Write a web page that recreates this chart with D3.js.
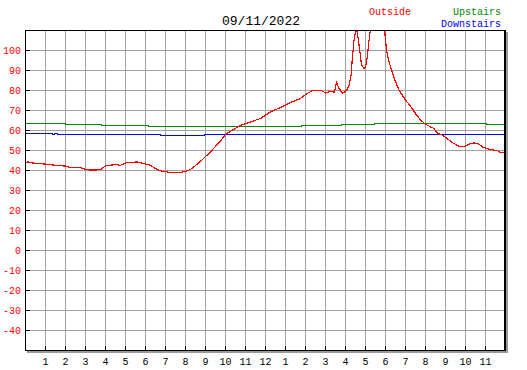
<!DOCTYPE html>
<html>
<head>
<meta charset="utf-8">
<script src="https://cdn.jsdelivr.net/npm/d3@7"></script>
<style>
  body { margin: 0; background: #fff; }
  text { font-family: "Liberation Mono", "DejaVu Sans Mono", monospace; }
</style>
</head>
<body>
<div id="chart"></div>
<script>
var width = 527, height = 370;

var title = "09/11/2022";

// hours since midnight and temperatures
var outsideHours = [0, 0.15, 0.3, 1.0, 1.4, 2.0, 2.25, 2.75, 3.0, 3.25, 3.6, 3.8, 4.0, 4.5, 4.75, 5.0, 5.6, 6.0,
  6.25, 6.5, 6.75, 7.25, 7.75, 8.08, 8.33, 8.75, 9.25, 9.75, 10.0, 10.25, 10.75, 11.25, 11.75, 12.25, 12.75,
  13.25, 13.75, 14.08, 14.4, 14.75, 15.0, 15.25, 15.45, 15.55, 15.67, 15.83, 16.0, 16.17, 16.28, 16.33, 16.42,
  16.5, 16.55, 16.61, 16.72, 16.8, 16.92, 17.0, 17.08, 17.17, 17.25, 17.4, 17.7, 17.95, 18.0, 18.08, 18.17,
  18.33, 18.5, 18.67, 18.83, 19.0, 19.25, 19.5, 19.75, 20.0, 20.25, 20.42, 20.58, 20.83, 21.08, 21.33, 21.67,
  21.92, 22.17, 22.42, 22.67, 22.9, 23.15, 23.4, 23.6, 23.7, 23.95];
var outside = [44.0, 44.3, 43.8, 43.2, 42.7, 42.2, 41.5, 41.5, 40.5, 40.2, 40.3, 40.8, 42.3, 43.0, 42.6, 43.8, 44.3, 43.2,
  42.6, 41.0, 39.8, 39.0, 39.0, 39.8, 41.0, 44.6, 49.3, 54.8, 58.1, 59.6, 62.6, 64.3, 66.0, 69.3, 71.5,
  74.0, 76.0, 78.5, 80.2, 80.2, 78.8, 79.5, 79.2, 84.2, 81.2, 78.7, 79.5, 82.0, 87.8, 94.5, 104.5,
  109.5, 111, 107.8, 99.5, 92.8, 91.2, 91.5, 96.2, 104.5, 111, 116, 118, 112, 104.5, 98.7, 94.5,
  89.5, 84.5, 80.3, 77.8, 75.2, 72.2, 68.5, 65.2, 63.2, 61.8, 61.0, 58.8, 57.7, 56.0, 54.0, 52.2,
  51.8, 53.2, 53.8, 53.2, 51.5, 50.8, 50.2, 50.0, 49.2, 49.2];

var upstairsHours = [0, 2.0, 3.8, 6.15, 13.8, 15.8, 17.45, 23.05, 24];
var upstairs = [63.5, 63.0, 62.5, 62.1, 62.6, 63.0, 63.5, 63.0, 63.0];

var downstairsHours = [0, 1.33, 1.45, 1.6, 6.75, 6.8, 8.95, 24];
var downstairs = [58.5, 58.0, 58.5, 58.0, 57.4, 57.6, 58.0, 58.0];

var yTicks = [-40, -30, -20, -10, 0, 10, 20, 30, 40, 50, 60, 70, 80, 90, 100];
var hourTicks = d3.range(1, 24);
var hourLabels = hourTicks.map(function(h) { return String(h % 12 || 12); });

var seriesNames = ["Outside", "Upstairs", "Downstairs"];
var seriesColors = ["#ff0000", "#008800", "#0000ff"];

var x = d3.scaleLinear().domain([0, 24]).range([25.5, 505.5]);
var y = d3.scaleLinear().domain([-50, 110]).range([350.5, 30.5]);

var svg = d3.select('#chart').append('svg')
    .attr('width', width)
    .attr('height', height);

svg.append('rect').attr('width', width).attr('height', height).attr('fill', '#fff');

// shadow
svg.append('rect')
    .attr('x', 27).attr('y', 32)
    .attr('width', 481).attr('height', 321)
    .attr('fill', '#999');
svg.append('rect')
    .attr('x', 25).attr('y', 30)
    .attr('width', 481).attr('height', 321)
    .attr('fill', '#fff');

// grid
svg.append('g').selectAll('line').data(hourTicks).enter().append('line')
    .attr('x1', function(d) { return x(d); })
    .attr('x2', function(d) { return x(d); })
    .attr('y1', y(110)).attr('y2', y(-50))
    .attr('stroke', '#a0a0a0')
    .attr('shape-rendering', 'crispEdges');
svg.append('g').selectAll('line').data(yTicks).enter().append('line')
    .attr('x1', x(0)).attr('x2', x(24))
    .attr('y1', function(d) { return y(d); })
    .attr('y2', function(d) { return y(d); })
    .attr('stroke', '#a0a0a0')
    .attr('shape-rendering', 'crispEdges');

svg.append('defs').append('clipPath').attr('id', 'plot')
    .append('rect').attr('x', 25).attr('y', 30).attr('width', 480).attr('height', 320);

// lines
var stepLine = d3.line()
    .x(function(d) { return x(d[0]); })
    .y(function(d) { return y(d[1]); })
    .curve(d3.curveStepAfter);
var plainLine = d3.line()
    .x(function(d) { return x(d[0]); })
    .y(function(d) { return y(d[1]); });

var g = svg.append('g').attr('clip-path', 'url(#plot)');
g.append('path')
    .attr('d', stepLine(d3.zip(upstairsHours, upstairs)))
    .attr('fill', 'none').attr('stroke', seriesColors[1])
    .attr('shape-rendering', 'crispEdges');
g.append('path')
    .attr('d', stepLine(d3.zip(downstairsHours, downstairs)))
    .attr('fill', 'none').attr('stroke', seriesColors[2])
    .attr('shape-rendering', 'crispEdges');
g.append('path')
    .attr('d', plainLine(d3.zip(outsideHours, outside)))
    .attr('fill', 'none').attr('stroke', seriesColors[0])
    .attr('stroke-width', 1.2)
    .attr('shape-rendering', 'crispEdges');

// frame
svg.append('rect')
    .attr('x', 25.5).attr('y', 30.5)
    .attr('width', 479).attr('height', 320)
    .attr('fill', 'none').attr('stroke', '#000')
    .attr('shape-rendering', 'crispEdges');
svg.append('line')
    .attr('x1', 505.5).attr('x2', 505.5).attr('y1', 30).attr('y2', 351)
    .attr('stroke', '#000').attr('shape-rendering', 'crispEdges');

// tick marks
svg.append('g').selectAll('line').data(yTicks).enter().append('line')
    .attr('x1', 25).attr('x2', 30)
    .attr('y1', function(d) { return y(d); })
    .attr('y2', function(d) { return y(d); })
    .attr('stroke', '#000').attr('shape-rendering', 'crispEdges');
svg.append('g').selectAll('line').data(hourTicks).enter().append('line')
    .attr('x1', function(d) { return x(d); })
    .attr('x2', function(d) { return x(d); })
    .attr('y1', 346).attr('y2', 350)
    .attr('stroke', '#000').attr('shape-rendering', 'crispEdges');

// labels
svg.append('g').selectAll('text').data(yTicks).enter().append('text')
    .attr('x', 21)
    .attr('y', function(d) { return y(d) + 3.5; })
    .attr('text-anchor', 'end')
    .attr('font-size', 10)
    .attr('fill', '#ff0000')
    .text(function(d) { return d; });
svg.append('g').selectAll('text').data(hourTicks).enter().append('text')
    .attr('x', function(d) { return x(d); })
    .attr('y', 365)
    .attr('text-anchor', 'middle')
    .attr('font-size', 10)
    .attr('fill', '#000')
    .text(function(d, i) { return hourLabels[i]; });

svg.append('text')
    .attr('x', 261).attr('y', 25)
    .attr('text-anchor', 'middle')
    .attr('font-size', 13)
    .text(title);

// legend
svg.append('text').attr('x', 369).attr('y', 15).attr('font-size', 10)
    .attr('fill', seriesColors[0]).text(seriesNames[0]);
svg.append('text').attr('x', 501).attr('y', 15).attr('font-size', 10)
    .attr('text-anchor', 'end').attr('fill', seriesColors[1]).text(seriesNames[1]);
svg.append('text').attr('x', 501).attr('y', 27).attr('font-size', 10)
    .attr('text-anchor', 'end').attr('fill', seriesColors[2]).text(seriesNames[2]);
</script>
</body>
</html>
